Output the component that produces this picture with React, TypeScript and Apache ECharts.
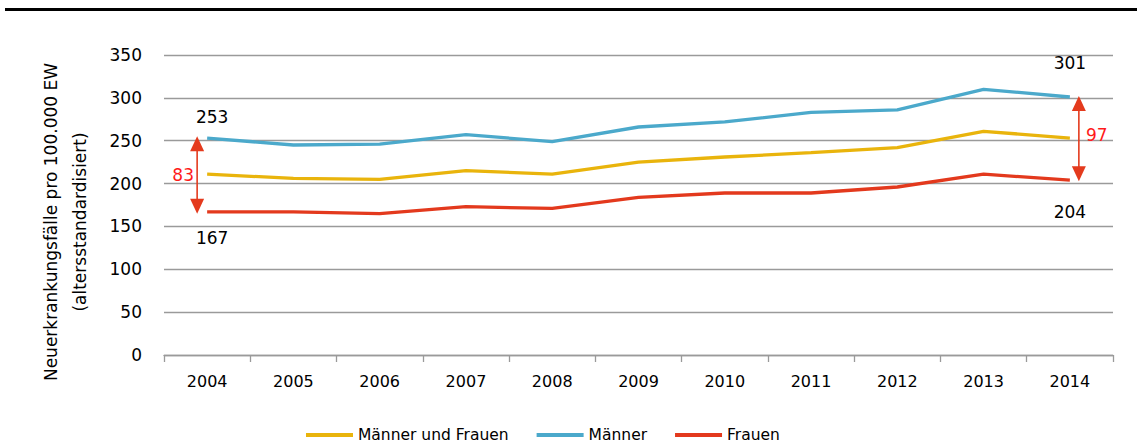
import React, { useEffect, useRef } from "react";
import * as echarts from "echarts";

const years = ["2004", "2005", "2006", "2007", "2008", "2009", "2010", "2011", "2012", "2013", "2014"];
const maennerUndFrauen = [211, 206, 205, 215, 211, 225, 231, 236, 242, 261, 253];
const maenner = [253, 245, 246, 257, 249, 266, 272, 283, 286, 310, 301];
const frauen = [167, 167, 165, 173, 171, 184, 189, 189, 196, 211, 204];
const seriesNames = ["Männer und Frauen", "Männer", "Frauen"];
const gapLabels = ["83", "97"];
const yMin = 0;
const yMax = 350;
const yStep = 50;
const yTitleLines = ["Neuerkrankungsfälle pro 100.000 EW", "(altersstandardisiert)"];

const FONT = "'DejaVu Sans', sans-serif";
const COLORS = ["#E9B40C", "#4BA9CB", "#E3391D"];
const ARROW = "#E43A1D";
const RED_TEXT = "#FF1A1A";
const GRID = "#9A9A9A";

export default function App() {
  const ref = useRef<HTMLDivElement>(null);

  useEffect(() => {
    document.body.style.margin = "0";
    if (!ref.current) return;
    const chart = echarts.init(ref.current, null, { renderer: "svg" });
    const option: any = {
      animation: false,
      backgroundColor: "#fff",
      grid: { left: 164, right: 24, top: 55, bottom: 89, containLabel: false },
      legend: {
        left: 306,
        top: 427,
        padding: 0,
        icon: "rect",
        itemWidth: 47,
        itemHeight: 4,
        itemGap: 28,
        textStyle: { fontFamily: FONT, fontSize: 15.5, color: "#000" },
        data: seriesNames,
      },
      xAxis: {
        type: "category",
        data: years,
        boundaryGap: true,
        axisLine: { show: true, lineStyle: { color: GRID, width: 1.3 } },
        axisTick: { show: true, length: 7, lineStyle: { color: GRID, width: 1.3 } },
        axisLabel: { margin: 18, fontFamily: FONT, fontSize: 16, color: "#000" },
      },
      yAxis: {
        type: "value",
        min: yMin,
        max: yMax,
        interval: yStep,
        axisLine: { show: false },
        axisTick: { show: false },
        axisLabel: { margin: 22, fontFamily: FONT, fontSize: 17, color: "#000" },
        splitLine: { show: true, lineStyle: { color: GRID, width: 1.3 } },
      },
      series: [
        { name: seriesNames[0], type: "line", data: maennerUndFrauen, symbol: "none", lineStyle: { color: COLORS[0], width: 3.3 }, itemStyle: { color: COLORS[0] } },
        { name: seriesNames[1], type: "line", data: maenner, symbol: "none", lineStyle: { color: COLORS[1], width: 3.3 }, itemStyle: { color: COLORS[1] } },
        { name: seriesNames[2], type: "line", data: frauen, symbol: "none", lineStyle: { color: COLORS[2], width: 3.3 }, itemStyle: { color: COLORS[2] } },
      ],
    };
    chart.setOption(option);

    const px = (i: number, v: number) => chart.convertToPixel({ gridIndex: 0 }, [years[i], v]) as number[];
    const last = years.length - 1;

    const arrow = (x: number, yTop: number, yBot: number) => [
      { type: "line", shape: { x1: x, y1: yTop + 12, x2: x, y2: yBot - 12 }, style: { stroke: ARROW, lineWidth: 1.6 } },
      { type: "polygon", shape: { points: [[x, yTop], [x - 7, yTop + 15], [x + 7, yTop + 15]] }, style: { fill: ARROW } },
      { type: "polygon", shape: { points: [[x, yBot], [x - 7, yBot - 15], [x + 7, yBot - 15]] }, style: { fill: ARROW } },
    ];
    const label = (x: number, y: number, text: string, color = "#000") => ({
      type: "text",
      x,
      y,
      style: { text, fill: color, font: `17px ${FONT}`, textAlign: "center", textVerticalAlign: "middle" },
    });

    const m0 = px(0, maenner[0]);
    const f0 = px(0, frauen[0]);
    const mL = px(last, maenner[last]);
    const fL = px(last, frauen[last]);
    const lx = m0[0] - 10;
    const lTop = m0[1] - 2;
    const lBot = f0[1] + 2;
    const rx = mL[0] + 9;
    const rTop = mL[1] - 1;
    const rBot = fL[1] + 1;

    const graphic: any[] = [
      { type: "rect", shape: { x: 5, y: 8, width: 1132, height: 3 }, style: { fill: "#000" } },
      {
        type: "text",
        x: 65,
        y: 222,
        rotation: Math.PI / 2,
        style: {
          text: yTitleLines.join("\n"),
          font: `17px ${FONT}`,
          lineHeight: 29,
          fill: "#000",
          textAlign: "center",
          textVerticalAlign: "middle",
        },
      },
      ...arrow(lx, lTop, lBot),
      ...arrow(rx, rTop, rBot),
      label(m0[0] + 5, m0[1] - 21, String(maenner[0])),
      label(f0[0] + 5, f0[1] + 26, String(frauen[0])),
      label(lx - 14, (lTop + lBot) / 2, gapLabels[0], RED_TEXT),
      label(mL[0], mL[1] - 34, String(maenner[last])),
      label(fL[0], fL[1] + 32, String(frauen[last])),
      label(rx + 18, (rTop + rBot) / 2 - 4, gapLabels[1], RED_TEXT),
    ];
    chart.setOption({ graphic });

    return () => chart.dispose();
  }, []);

  return <div ref={ref} style={{ width: 1137, height: 444 }} />;
}
